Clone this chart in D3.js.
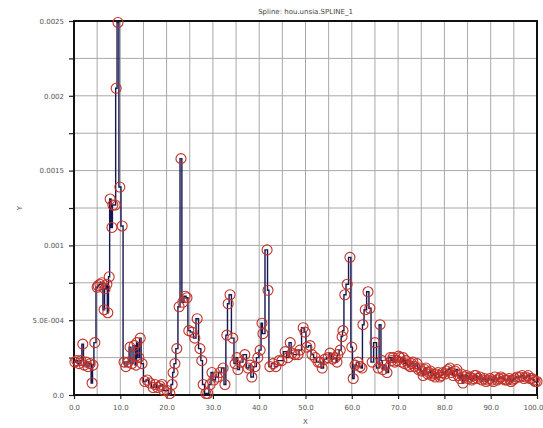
<!DOCTYPE html>
<html>
<head>
<meta charset="utf-8">
<script src="https://cdn.jsdelivr.net/npm/d3@7"></script>
<style>
  body { margin: 0; background: #fff; }
  text { font-family: "DejaVu Sans", sans-serif; }
</style>
</head>
<body>
<div class="chart"></div>
<script>
// Chart data

var chartTitle = "Spline: hou.unsia.SPLINE_1";

var xVals = [
  0.2, 0.6, 1.1, 1.5, 1.9, 2.2, 2.6, 3.0, 3.5, 3.9, 4.1, 4.5,
  5.0, 5.2, 5.6, 6.0, 6.5, 6.7, 7.1, 7.3, 7.6, 7.8, 8.2, 8.4, 8.9, 9.1, 9.5, 9.9, 10.4,
  10.8, 11.2, 11.7, 12.1, 12.5, 13.0, 13.4, 13.6, 14.0, 14.3, 14.7,
  15.3, 15.8, 16.4, 17.1, 17.5, 18.1, 18.6, 19.0, 19.4, 20.1, 20.7, 21.2, 21.4, 21.8, 22.2,
  22.7, 23.1, 23.5, 24.0, 24.4, 24.8, 25.5, 26.1, 26.6, 27.2, 27.6, 27.9,
  28.5, 28.9, 29.4, 29.8, 30.2, 30.9, 31.5, 32.2, 32.6,
  33.0, 33.3, 33.7, 34.3, 34.8, 35.2, 35.4, 36.1, 36.9, 37.6, 38.0, 38.4, 39.1, 39.7,
  40.2, 40.6, 40.8, 41.7, 41.9, 42.3, 43.0, 43.6, 44.3, 44.9, 45.6, 46.2, 46.7, 47.1,
  47.7, 48.4, 48.8, 49.5, 49.9, 50.3, 51.0, 51.4, 52.1, 52.7, 53.1, 53.6, 54.2, 54.9,
  55.3, 55.9, 56.4, 56.8, 57.0, 57.5, 57.9, 58.1, 58.5, 59.0, 59.6, 60.0, 60.3, 60.7,
  61.3, 61.8, 62.2, 62.4, 62.9, 63.5, 63.9, 64.4, 65.0, 65.7, 66.1, 66.5, 66.7, 67.2, 67.6,
  68.3, 68.6, 68.9, 69.3, 69.8, 70.1, 70.4, 70.8, 71.1, 71.4, 71.7, 72.2, 72.6, 72.9, 73.2,
  73.6, 74.1, 74.4, 74.7, 75.1, 75.4, 75.7, 76.0, 76.4, 76.7, 77.0, 77.3, 77.7, 78.0, 78.3,
  78.6, 79.0, 79.3, 79.7, 80.1, 80.5, 80.8, 81.2, 81.5, 81.9, 82.3, 82.7, 83.0, 83.4, 83.7,
  84.0, 84.4, 84.7, 85.1, 85.5, 85.9, 86.2, 86.5, 86.8, 87.2, 87.7, 88.1, 88.6, 89.0, 89.4,
  89.8, 90.3, 90.6, 90.9, 91.4, 91.8, 92.2, 92.7, 93.1, 93.5, 94.0, 94.4, 94.8, 95.2, 95.7,
  96.3, 96.8, 97.2, 97.6, 98.1, 98.5, 98.9, 99.3, 99.6, 100.0
];

var yVals = [
  0.00022, 0.00023, 0.00021, 0.00023, 0.00034, 0.00020, 0.00022, 0.00019, 0.00021, 0.00008, 0.00020, 0.00035,
  0.00072, 0.00073, 0.00074, 0.00075, 0.00057, 0.00071, 0.00074, 0.00055, 0.00079, 0.00131, 0.00112, 0.00127, 0.00127, 0.00205, 0.00249, 0.00139, 0.00113,
  0.00022, 0.00019, 0.00022, 0.00032, 0.00021, 0.00033, 0.00020, 0.00035, 0.00025, 0.00038, 0.00021,
  0.00009, 0.00010, 0.00008, 0.00005, 0.00007, 0.00005, 0.00006, 0.00007, 0.00003, 0.00003, 0.00001, 0.00007, 0.00015, 0.00021, 0.00031,
  0.00059, 0.00158, 0.00062, 0.00066, 0.00065, 0.00043, 0.00042, 0.00038, 0.00051, 0.00031, 0.00023, 0.00007,
  0.00001, 0.00001, 0.00007, 0.00015, 0.00010, 0.00012, 0.00015, 0.00018, 0.00007,
  0.00040, 0.00061, 0.00067, 0.00038, 0.00021, 0.00025, 0.00017, 0.00022, 0.00027, 0.00018, 0.00020, 0.00012, 0.00019, 0.00025,
  0.00030, 0.00048, 0.00041, 0.00097, 0.00070, 0.00019, 0.00021, 0.00019, 0.00023, 0.00023, 0.00029, 0.00025, 0.00035, 0.00028,
  0.00027, 0.00027, 0.00030, 0.00045, 0.00042, 0.00032, 0.00033, 0.00027, 0.00025, 0.00022, 0.00022, 0.00018, 0.00024, 0.00025,
  0.00028, 0.00024, 0.00025, 0.00022, 0.00027, 0.00030, 0.00039, 0.00043, 0.00067, 0.00074, 0.00092, 0.00032, 0.00011, 0.00020,
  0.00022, 0.00019, 0.00018, 0.00047, 0.00057, 0.00069, 0.00058, 0.00022, 0.00035, 0.00018, 0.00047, 0.00023, 0.00017, 0.00020, 0.00015,
  0.00025, 0.00023, 0.00025, 0.00022, 0.00023, 0.00026, 0.00025, 0.00022, 0.00025, 0.00021, 0.00023, 0.00020, 0.00019, 0.00021, 0.00022,
  0.00019, 0.00021, 0.00017, 0.00018, 0.00016, 0.00013, 0.00017, 0.00018, 0.00014, 0.00015, 0.00016, 0.00013, 0.00014, 0.00012, 0.00014,
  0.00015, 0.00012, 0.00013, 0.00015, 0.00014, 0.00016, 0.00017, 0.00018, 0.00015, 0.00013, 0.00016, 0.00017, 0.00013, 0.00011, 0.00014,
  0.00008, 0.00012, 0.00013, 0.00011, 0.00012, 0.00010, 0.00011, 0.00013, 0.00013, 0.00011, 0.00012, 0.00010, 0.00011, 0.00009, 0.00010,
  0.00011, 0.00010, 0.00009, 0.00012, 0.00010, 0.00011, 0.00012, 0.00011, 0.00010, 0.00010, 0.00011, 0.00009, 0.00010, 0.00011, 0.00012,
  0.00012, 0.00013, 0.00011, 0.00012, 0.00013, 0.00011, 0.00011, 0.00010, 0.00009, 0.00009
];

var xTickVals = [0, 10, 20, 30, 40, 50, 60, 70, 80, 90, 100];
var xTickLabels = ["0.0", "10.0", "20.0", "30.0", "40.0", "50.0", "60.0", "70.0", "80.0", "90.0", "100.0"];
var yTickVals = [0, 0.0005, 0.001, 0.0015, 0.002, 0.0025];
var yTickLabels = ["0.0", "5.0E-004", "0.001", "0.0015", "0.002", "0.0025"];

// SVG size and margins
var svgWidth = 543;
var svgHeight = 428;

var margin = {
  top: 21,
  right: 6,
  bottom: 33,
  left: 74
};

var width = svgWidth - margin.left - margin.right;
var height = svgHeight - margin.top - margin.bottom;

var svg = d3.select(".chart").append("svg")
  .attr("width", svgWidth)
  .attr("height", svgHeight);

var chartGroup = svg.append("g")
  .attr("transform", `translate(${margin.left}, ${margin.top})`);

var points = xVals.map((x, i) => ({ x: x, y: yVals[i] }));

// scales
var xScale = d3.scaleLinear().domain([0, 100]).range([0, width]);
var yScale = d3.scaleLinear().domain([0, 0.0025]).range([height, 0]);

// grid lines (every 5 on x, every 0.00025 on y)
var xGrid = d3.range(0, 101, 5);
var yGrid = d3.range(0, 11).map(i => i * 0.00025);

chartGroup.append("g").selectAll("line")
  .data(xGrid)
  .enter()
  .append("line")
  .attr("x1", d => xScale(d)).attr("x2", d => xScale(d))
  .attr("y1", 0).attr("y2", height)
  .attr("stroke", "#a8a8a8")
  .attr("stroke-width", 1);

chartGroup.append("g").selectAll("line")
  .data(yGrid)
  .enter()
  .append("line")
  .attr("x1", 0).attr("x2", width)
  .attr("y1", d => yScale(d)).attr("y2", d => yScale(d))
  .attr("stroke", "#a8a8a8")
  .attr("stroke-width", 1);

// axes
var bottomAxis = d3.axisBottom(xScale)
  .tickValues(xTickVals)
  .tickFormat((d, i) => xTickLabels[i])
  .tickSize(4)
  .tickPadding(6);

var leftAxis = d3.axisLeft(yScale)
  .tickValues(yGrid)
  .tickFormat(d => {
    var k = yTickVals.findIndex(v => Math.abs(v - d) < 1e-9);
    return k >= 0 ? yTickLabels[k] : "";
  })
  .tickSize(5)
  .tickPadding(5);

var xAxisG = chartGroup.append("g")
  .attr("transform", `translate(0, ${height})`)
  .call(bottomAxis);

var yAxisG = chartGroup.append("g").call(leftAxis);

[xAxisG, yAxisG].forEach(g => {
  g.select(".domain").remove();
  g.selectAll(".tick line").attr("stroke", "#222").attr("stroke-width", 1.2);
  g.selectAll(".tick text")
    .attr("fill", "#555")
    .style("font-size", "7px");
});

// last x label would run off the right edge
xAxisG.selectAll(".tick text")
  .filter(d => d === 100)
  .attr("text-anchor", "end")
  .attr("dx", "6");

// frame
chartGroup.append("rect")
  .attr("x", 0).attr("y", 0)
  .attr("width", width).attr("height", height)
  .attr("fill", "none")
  .attr("stroke", "#111")
  .attr("stroke-width", 2);

// data line, drawn as steps so the spikes come out as thin vertical strokes
var line = d3.line()
  .curve(d3.curveStep)
  .x(d => xScale(d.x))
  .y(d => yScale(d.y));

chartGroup.append("path")
  .datum(points)
  .attr("d", line)
  .attr("fill", "none")
  .attr("stroke", "#161650")
  .attr("stroke-width", 1.4);

// data circles
chartGroup.selectAll("circle")
  .data(points)
  .enter()
  .append("circle")
  .attr("cx", d => xScale(d.x))
  .attr("cy", d => yScale(d.y))
  .attr("r", 5)
  .attr("fill", "none")
  .attr("stroke", "#c0322a")
  .attr("stroke-width", 1.1);

// title and axis labels
svg.append("text")
  .attr("x", margin.left + width / 2)
  .attr("y", 14)
  .attr("text-anchor", "middle")
  .attr("fill", "#444")
  .style("font-size", "7px")
  .text(chartTitle);

svg.append("text")
  .attr("x", margin.left + width / 2)
  .attr("y", 424)
  .attr("text-anchor", "middle")
  .attr("fill", "#555")
  .style("font-size", "7px")
  .text("X");

svg.append("text")
  .attr("transform", "translate(22, 208) rotate(-90)")
  .attr("text-anchor", "middle")
  .attr("fill", "#555")
  .style("font-size", "7px")
  .text("Y");
</script>
</body>
</html>
